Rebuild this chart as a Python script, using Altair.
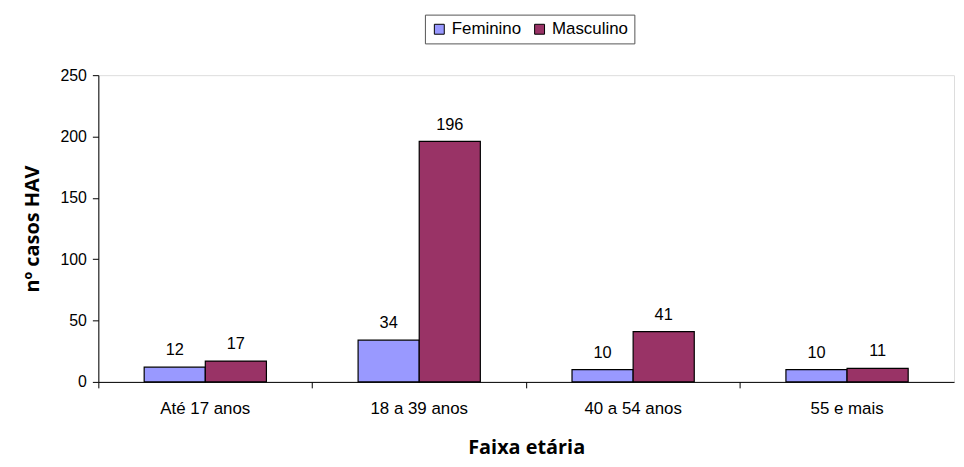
import altair as alt
import pandas as pd

categories = ["Até 17 anos", "18 a 39 anos", "40 a 54 anos", "55 e mais"]
feminino = [12, 34, 10, 10]
masculino = [17, 196, 41, 11]
series = ["Feminino", "Masculino"]
colors = ["#9999FF", "#993366"]

rows = []
for c, f, m in zip(categories, feminino, masculino):
    rows.append({"faixa": c, "sexo": "Feminino", "casos": f})
    rows.append({"faixa": c, "sexo": "Masculino", "casos": m})
df = pd.DataFrame(rows)

x_enc = alt.X("faixa:N", sort=categories,
              scale=alt.Scale(paddingInner=0, paddingOuter=0),
              axis=alt.Axis(title="Faixa etária", bandPosition=0, labelAngle=0,
                            labelFont="Liberation Sans", labelFontSize=17, labelColor="black",
                            labelPadding=13, tickSize=6, tickColor="black", domainColor="black",
                            titleFont="Open Sans", titleFontSize=20, titleFontWeight="bold",
                            titlePadding=21, titleColor="black"))
xo_enc = alt.XOffset("sexo:N", sort=series,
                     scale=alt.Scale(paddingInner=0, paddingOuter=0.75))
y_scale = alt.Scale(domain=[0, 250])

bars = alt.Chart(df).mark_bar(stroke="black", strokeWidth=1.2).encode(
    x=x_enc,
    xOffset=xo_enc,
    y=alt.Y("casos:Q", scale=y_scale,
            axis=alt.Axis(title="nº casos HAV", values=[0, 50, 100, 150, 200, 250], grid=False,
                          labelFont="Liberation Sans", labelFontSize=16, labelColor="black",
                          labelPadding=6, tickSize=6, tickColor="black", domainColor="black",
                          titleFont="Open Sans", titleFontSize=20, titleFontWeight="bold",
                          titlePadding=18, titleColor="black")),
    color=alt.Color("sexo:N", sort=series,
                    scale=alt.Scale(domain=series, range=colors),
                    legend=alt.Legend(title=None, orient="none", legendX=329, legendY=-61,
                                      direction="horizontal", symbolType="square",
                                      symbolSize=100, symbolStrokeColor="black",
                                      symbolStrokeWidth=1, symbolOpacity=1,
                                      labelFont="Liberation Sans", labelFontSize=17,
                                      labelColor="black", columnPadding=10, labelOffset=4,
                                      strokeColor="#555555", padding=6, fillColor="white")),
)

labels = alt.Chart(df).mark_text(baseline="bottom", dy=-9, font="Liberation Sans",
                                 fontSize=16.5, color="black").encode(
    x=alt.X("faixa:N", sort=categories),
    xOffset=alt.XOffset("sexo:N", sort=series),
    y=alt.Y("casos:Q", scale=y_scale),
    text="casos:Q",
)

chart = (bars + labels).properties(
    width=862, height=309,
    autosize=alt.AutoSizeParams(type="none"),
    padding={"left": 91, "top": 66, "right": 2, "bottom": 76},
).configure_view(stroke="#808080", strokeWidth=1).configure(background="white")

chart.save("out.html", embed_options={"renderer": "svg", "actions": False})
